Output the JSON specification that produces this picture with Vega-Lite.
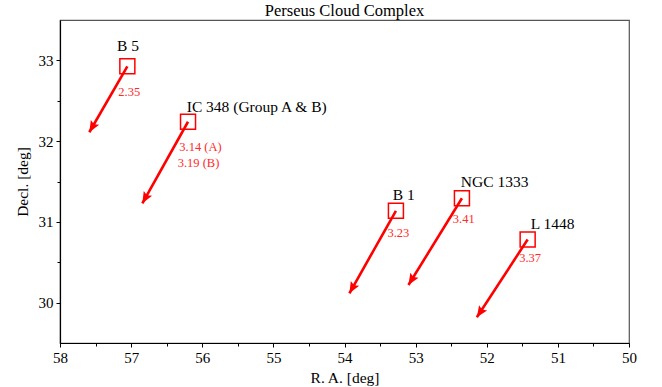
{
  "$schema": "https://vega.github.io/schema/vega-lite/v6.json",
  "width": 569,
  "height": 323,
  "autosize": {"type": "none"},
  "padding": {"left": 60, "top": 20, "right": 33, "bottom": 44},
  "background": "white",
  "config": {
    "view": {"stroke": "#555555", "strokeWidth": 1.2},
    "font": "Liberation Serif",
    "axis": {
      "grid": false,
      "domainColor": "#000000",
      "domainWidth": 1.2,
      "tickColor": "#000000",
      "tickWidth": 1,
      "labelColor": "#000000",
      "labelFont": "Liberation Serif",
      "labelFontSize": 15,
      "labelPadding": 3,
      "labelFlush": false,
      "labelOverlap": false,
      "titleFont": "Liberation Serif",
      "titleFontSize": 15.5,
      "titleFontWeight": "normal",
      "titleColor": "#000000"
    }
  },
  "title": {
    "text": "Perseus Cloud Complex",
    "font": "Liberation Serif",
    "fontSize": 16.5,
    "fontWeight": "normal",
    "color": "#000000",
    "anchor": "middle",
    "offset": 1
  },
  "datasets": {
    "clouds": [
      {"name": "B 5", "ra": 57.053, "dec": 32.926, "ra_tip": 57.588, "dec_tip": 32.11},
      {"name": "IC 348", "ra": 56.2, "dec": 32.24, "ra_tip": 56.842, "dec_tip": 31.23},
      {"name": "B 1", "ra": 53.277, "dec": 31.137, "ra_tip": 53.931, "dec_tip": 30.115},
      {"name": "NGC 1333", "ra": 52.349, "dec": 31.292, "ra_tip": 53.101, "dec_tip": 30.218},
      {"name": "L 1448", "ra": 51.425, "dec": 30.782, "ra_tip": 52.139, "dec_tip": 29.818}
    ],
    "names": [
      {"label": "B 5", "ra": 57.198, "dec": 33.11},
      {"label": "IC 348 (Group A & B)", "ra": 56.218, "dec": 32.366},
      {"label": "B 1", "ra": 53.32, "dec": 31.271},
      {"label": "NGC 1333", "ra": 52.364, "dec": 31.436},
      {"label": "L 1448", "ra": 51.38, "dec": 30.916}
    ],
    "values": [
      {"label": "2.35", "ra": 57.18, "dec": 32.564},
      {"label": "3.14 (A)", "ra": 56.322, "dec": 31.882},
      {"label": "3.19 (B)", "ra": 56.345, "dec": 31.684},
      {"label": "3.23", "ra": 53.397, "dec": 30.817},
      {"label": "3.41", "ra": 52.477, "dec": 30.983},
      {"label": "3.37", "ra": 51.544, "dec": 30.5}
    ]
  },
  "encoding": {
    "x": {
      "field": "ra",
      "type": "quantitative",
      "title": "R. A. [deg]",
      "scale": {"domain": [50, 58], "reverse": true, "nice": false, "zero": false},
      "axis": {
        "values": [58, 57.5, 57, 56.5, 56, 55.5, 55, 54.5, 54, 53.5, 53, 52.5, 52, 51.5, 51, 50.5, 50],
        "labelExpr": "datum.value % 1 === 0 ? format(datum.value, 'd') : ''",
        "tickSize": {"condition": {"test": "datum.value % 1 === 0", "value": 4}, "value": 3},
        "titlePadding": 5
      }
    },
    "y": {
      "field": "dec",
      "type": "quantitative",
      "title": "Decl. [deg]",
      "scale": {"domain": [29.5, 33.5], "nice": false, "zero": false},
      "axis": {
        "values": [30, 30.5, 31, 31.5, 32, 32.5, 33],
        "labelExpr": "datum.value % 1 === 0 ? format(datum.value, 'd') : ''",
        "tickSize": {"condition": {"test": "datum.value % 1 === 0", "value": 4}, "value": 3},
        "titlePadding": 8
      }
    }
  },
  "layer": [
    {
      "data": {"name": "clouds"},
      "mark": {"type": "rule", "color": "#ff0000", "strokeWidth": 2.6},
      "encoding": {
        "x2": {"field": "ra_tip"},
        "y2": {"field": "dec_tip"}
      }
    },
    {
      "data": {"name": "clouds"},
      "transform": [
        {"calculate": "180 + atan2((datum.ra_tip - datum.ra) * 71.1, (datum.dec - datum.dec_tip) * 80.7) * 180 / PI", "as": "ang"}
      ],
      "mark": {
        "type": "point",
        "shape": "M0,0 L0.42,1 L0,0.82 L-0.42,1 Z",
        "filled": true,
        "color": "#ff0000",
        "opacity": 1,
        "size": 520,
        "strokeWidth": 0
      },
      "encoding": {
        "x": {"field": "ra_tip", "type": "quantitative", "title": "R. A. [deg]"},
        "y": {"field": "dec_tip", "type": "quantitative", "title": "Decl. [deg]"},
        "angle": {"field": "ang", "type": "quantitative", "scale": null}
      }
    },
    {
      "data": {"name": "clouds"},
      "mark": {
        "type": "point",
        "shape": "square",
        "filled": false,
        "stroke": "#ff0000",
        "strokeWidth": 1.5,
        "opacity": 1,
        "size": 225
      }
    },
    {
      "data": {"name": "names"},
      "mark": {
        "type": "text",
        "align": "left",
        "baseline": "alphabetic",
        "font": "Liberation Serif",
        "fontSize": 15.5,
        "color": "#000000"
      },
      "encoding": {"text": {"field": "label"}}
    },
    {
      "data": {"name": "values"},
      "mark": {
        "type": "text",
        "align": "left",
        "baseline": "alphabetic",
        "font": "Liberation Serif",
        "fontSize": 12.5,
        "color": "#ff2a2a"
      },
      "encoding": {"text": {"field": "label"}}
    }
  ]
}
